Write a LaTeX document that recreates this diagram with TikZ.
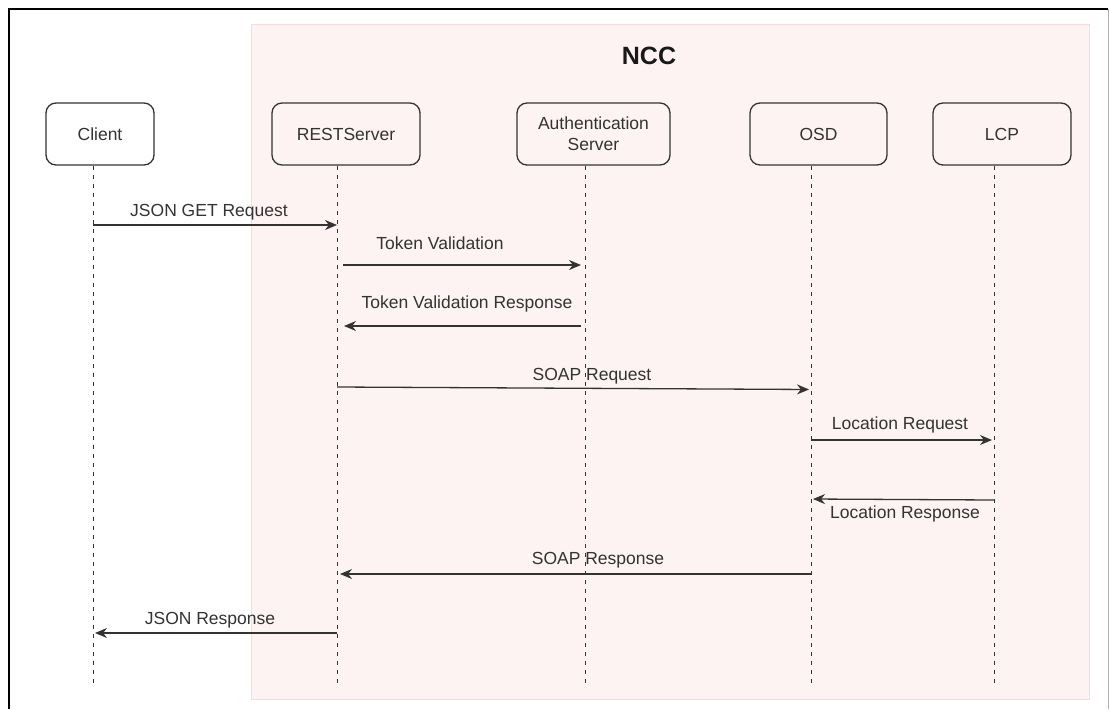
\documentclass[tikz,border=0pt]{standalone}
\usepackage{fontspec}
\setmainfont{Liberation Sans}
\usetikzlibrary{arrows.meta}
\definecolor{nccfill}{HTML}{FDF3F2}
\definecolor{nccline}{HTML}{F6DCDA}
\definecolor{ink}{HTML}{333333}

\begin{document}
\begin{tikzpicture}[x=1pt,y=-1pt,
	actor/.style={draw=ink,line width=1.3pt,rounded corners=10pt,minimum height=62pt,inner sep=0pt,
		align=center,text=ink,font=\fontsize{17.5}{21}\selectfont},
	life/.style={draw=ink,line width=1pt,dash pattern=on 4.5pt off 4.5pt},
	msg/.style={draw=ink,line width=1.3pt,-{Stealth[length=12pt,width=10pt]}},
	lbl/.style={inner sep=0pt,text=ink,font=\fontsize{17.5}{21}\selectfont}]
	\useasboundingbox (0,0) rectangle (1110,709);
	
	%FRAME
	\draw[line width=1.5pt] (9,709)--(9,9)--(1108,9);
	\draw[line width=1pt,gray!60] (1108,9)--(1108,709);
	
	%NCC AREA
	\filldraw[fill=nccfill,draw=nccline,line width=1pt] (251,25) rectangle (1089,699);
	\node[font=\bfseries\fontsize{25}{30}\selectfont,text=black!90] (ncc) at (649,56) {NCC};
	
	%PARTICIPANTS
	\node[actor,fill=white,minimum width=108pt] (client) at (100,134) {Client};
	\node[actor,minimum width=148pt] (rest) at (346,134) {RESTServer};
	\node[actor,minimum width=153pt] (auth) at (593.5,134) {Authentication\\Server};
	\node[actor,minimum width=137pt] (osd) at (818.5,134) {OSD};
	\node[actor,minimum width=138pt] (lcp) at (1002,134) {LCP};
	
	%LIFELINES
	\coordinate (bottom) at (0,683);
	\coordinate (clientL) at ([xshift=-7pt]client.south);
	\coordinate (restL) at ([xshift=-9pt]rest.south);
	\coordinate (authL) at ([xshift=-8.5pt]auth.south);
	\coordinate (osdL) at ([xshift=-7.5pt]osd.south);
	\coordinate (lcpL) at ([xshift=-8pt]lcp.south);
	\foreach \p in {clientL,restL,authL,osdL,lcpL}
		\draw[life] (\p)--(\p |- bottom);
	
	%MESSAGE ROWS
	\foreach \n/\y in {m1/225,m2/265,m3/326,m4/387,m5/440,m6/499,m7/574,m8/633}
		\coordinate (\n) at (0,\y);
	
	%REQUESTS
	\draw[msg] (clientL |- m1)--(restL |- m1);
	\node[lbl] (l1) at (209,212) {JSON GET Request};
	\draw[msg,shorten <=6pt,shorten >=4pt] (restL |- m2)--(authL |- m2);
	\node[lbl] (l2) at (440,243) {Token Validation};
	\draw[msg,shorten <=4pt,shorten >=7pt] (authL |- m3)--(restL |- m3);
	\node[lbl] (l3) at (467,304) {Token Validation Response};
	\draw[msg,shorten >=2pt] (restL |- m4)--([yshift=-2.5pt]osdL |- m4);
	\node[lbl] (l4) at (592,376) {SOAP Request};
	\draw[msg,shorten >=2pt] (osdL |- m5)--(lcpL |- m5);
	\node[lbl] (l5) at (900,425) {Location Request};
	
	%RESPONSES
	\draw[msg,shorten >=2pt] ([yshift=-1pt]lcpL |- m6)--(osdL |- m6);
	\node[lbl] (l6) at (905,514) {Location Response};
	\draw[msg,shorten >=3pt] (osdL |- m7)--(restL |- m7);
	\node[lbl] (l7) at (598,560) {SOAP Response};
	\draw[msg,shorten >=2pt] (restL |- m8)--(clientL |- m8);
	\node[lbl] (l8) at (210,620) {JSON Response};
\end{tikzpicture}
\end{document}
